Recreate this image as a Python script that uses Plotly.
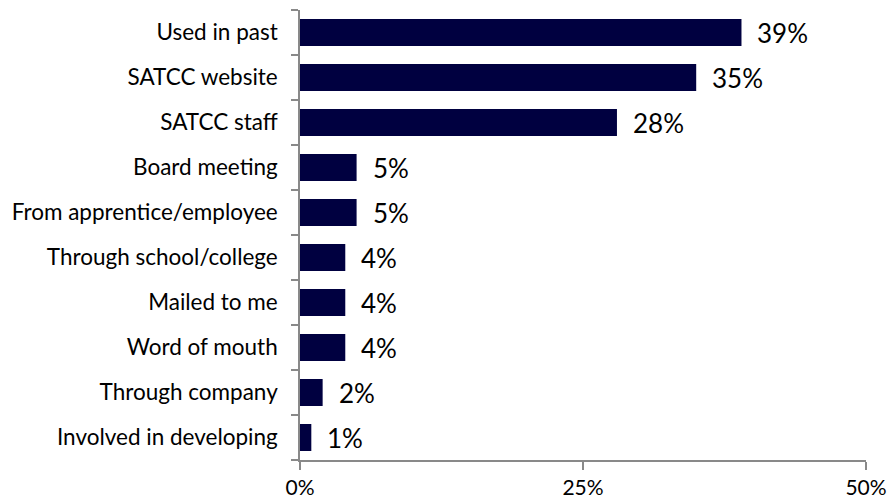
import plotly.graph_objects as go

# Survey responses: how respondents heard about the program
categories = [
    "Used in past",
    "SATCC website",
    "SATCC staff",
    "Board meeting",
    "From apprentice/employee",
    "Through school/college",
    "Mailed to me",
    "Word of mouth",
    "Through company",
    "Involved in developing",
]
percent = [39, 35, 28, 5, 5, 4, 4, 4, 2, 1]
x_ticks = [0, 25, 50]
x_tick_labels = ["0%", "25%", "50%"]

BAR_COLOR = "#000040"
AXIS_COLOR = "#898989"
FONT = "Lato, Carlito, Calibri, sans-serif"

# reverse so the first category sits at the top
cats_rev = categories[::-1]
vals_rev = percent[::-1]

fig = go.Figure()
fig.add_trace(
    go.Bar(
        x=vals_rev,
        y=cats_rev,
        orientation="h",
        marker=dict(color=BAR_COLOR, line=dict(width=0)),
        width=0.6,
        hoverinfo="skip",
    )
)

# value labels just right of each bar end
for c, v in zip(cats_rev, vals_rev):
    fig.add_annotation(
        x=v,
        y=c,
        text=f"{v}%",
        showarrow=False,
        xanchor="left",
        yanchor="middle",
        xshift=14,
        font=dict(family=FONT, size=26, color="#000000"),
    )

fig.update_layout(
    width=888,
    height=501,
    margin=dict(l=300, r=22, t=10, b=41, autoexpand=False),
    plot_bgcolor="white",
    paper_bgcolor="white",
    showlegend=False,
    bargap=0.4,
    font=dict(family=FONT, size=22, color="#000000"),
)

fig.update_xaxes(
    range=[0, 50],
    tickvals=x_ticks,
    ticktext=x_tick_labels,
    showgrid=False,
    zeroline=False,
    showline=True,
    linecolor=AXIS_COLOR,
    linewidth=1.5,
    ticks="outside",
    ticklen=8,
    tickwidth=1.5,
    tickcolor=AXIS_COLOR,
    automargin=False,
    tickfont=dict(family=FONT, size=21, color="#000000"),
)

fig.update_yaxes(
    type="category",
    categoryorder="array",
    categoryarray=cats_rev,
    showgrid=False,
    zeroline=False,
    showline=True,
    linecolor=AXIS_COLOR,
    linewidth=1.5,
    ticks="outside",
    tickson="boundaries",
    ticklen=7,
    tickwidth=1.5,
    tickcolor=AXIS_COLOR,
    ticklabelstandoff=16,
    automargin=False,
    tickfont=dict(family=FONT, size=22.5, color="#000000"),
)

fig.write_html("out.html")
